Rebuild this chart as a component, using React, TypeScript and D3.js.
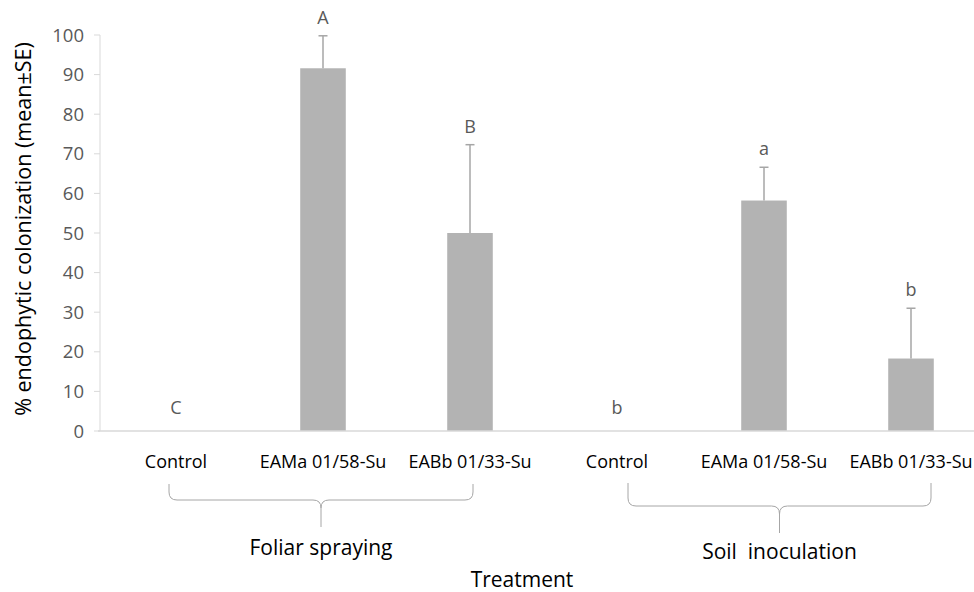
import React from "react";
import * as d3 from "d3";

const categories = ["Control", "EAMa 01/58-Su", "EABb 01/33-Su", "Control", "EAMa 01/58-Su", "EABb 01/33-Su"];
const means = [0, 91.6, 50.0, 0, 58.2, 18.3];
const errors = [0, 8.2, 22.3, 0, 8.4, 12.7];
const letters = ["C", "A", "B", "b", "a", "b"];
const yTicks = [0, 10, 20, 30, 40, 50, 60, 70, 80, 90, 100];
const groups = [
  { label: "Foliar spraying", from: 0, to: 2 },
  { label: "Soil  inoculation", from: 3, to: 5 },
];

const W = 974;
const H = 592;
const FONT = "'Open Sans', sans-serif";

export default function App() {
  const x = d3
    .scaleBand<number>()
    .domain(categories.map((_, i) => i))
    .range([102.5, 984.5])
    .paddingInner(0.69)
    .paddingOuter(0.345);
  const y = d3.scaleLinear().domain([0, 100]).range([431, 35]);
  const bw = x.bandwidth();
  const cx = (i: number) => (x(i) as number) + bw / 2;

  const braceOffsets = [
    { l: -7, r: 3, top: 484, mid: 500, tip: 527, textY: 547 },
    { l: 11, r: 20, top: 483, mid: 506, tip: 533, textY: 551 },
  ];

  const bracePath = (x0: number, x1: number, top: number, mid: number, tip: number) => {
    const m = (x0 + x1) / 2;
    const r = 8;
    return `M${x0},${top} L${x0},${mid - r} Q${x0},${mid} ${x0 + r},${mid} L${m - r},${mid} Q${m},${mid} ${m},${mid + r} L${m},${tip} M${m},${mid + r} Q${m},${mid} ${m + r},${mid} L${x1 - r},${mid} Q${x1},${mid} ${x1},${mid - r} L${x1},${top}`;
  };

  return (
    <svg width={W} height={H} style={{ position: "absolute", left: 0, top: 0, background: "#fff" }} fontFamily={FONT}>
      {/* y axis */}
      <line x1={100} x2={100} y1={y(0)} y2={y(100)} stroke="#d9d9d9" strokeWidth={1} />
      {yTicks.map((t) => (
        <g key={t}>
          <line x1={94} x2={100} y1={y(t)} y2={y(t)} stroke="#d9d9d9" />
          <text x={84} y={y(t)} dy="0.36em" textAnchor="end" fontSize={18.5} fill="#595959">
            {t}
          </text>
        </g>
      ))}
      <text
        transform={`translate(22,${y(50) - 4}) rotate(-90)`}
        textAnchor="middle"
        dominantBaseline="central"
        fontSize={21.5}
        fill="#000"
      >
        % endophytic colonization (mean±SE)
      </text>

      {/* bars */}
      {means.map((v, i) =>
        v > 0 ? (
          <rect key={i} x={x(i)} y={y(v)} width={bw} height={y(0) - y(v)} fill="#b3b3b3" />
        ) : null
      )}
      {/* error bars */}
      {means.map((v, i) =>
        errors[i] > 0 ? (
          <g key={i} stroke="#a6a6a6" strokeWidth={1.5}>
            <line x1={cx(i)} x2={cx(i)} y1={y(v)} y2={y(v + errors[i])} />
            <line x1={cx(i) - 4.5} x2={cx(i) + 4.5} y1={y(v + errors[i])} y2={y(v + errors[i])} />
          </g>
        ) : null
      )}
      {/* letters */}
      {means.map((v, i) => (
        <text
          key={i}
          x={cx(i)}
          y={y(v + errors[i]) - (errors[i] > 0 ? 19 : 24)}
          textAnchor="middle"
          dominantBaseline="central"
          fontSize={18}
          fill="#595959"
        >
          {letters[i]}
        </text>
      ))}

      {/* x axis */}
      <line x1={98} x2={974} y1={y(0)} y2={y(0)} stroke="#d9d9d9" strokeWidth={1.5} />
      {categories.map((c, i) => (
        <text key={i} x={cx(i)} y={461} textAnchor="middle" dominantBaseline="central" fontSize={18} fill="#000">
          {c}
        </text>
      ))}

      {/* braces */}
      {groups.map((g, gi) => {
        const o = braceOffsets[gi];
        const x0 = cx(g.from) + o.l;
        const x1 = cx(g.to) + o.r;
        return (
          <g key={gi}>
            <path d={bracePath(x0, x1, o.top, o.mid, o.tip)} fill="none" stroke="#a6a6a6" strokeWidth={1} />
            <text
              x={(x0 + x1) / 2}
              y={o.textY}
              textAnchor="middle"
              dominantBaseline="central"
              fontSize={21}
              fill="#000"
              style={{ whiteSpace: "pre" }}
            >
              {g.label}
            </text>
          </g>
        );
      })}

      <text x={522} y={579} textAnchor="middle" dominantBaseline="central" fontSize={21} fill="#000">
        Treatment
      </text>
    </svg>
  );
}
